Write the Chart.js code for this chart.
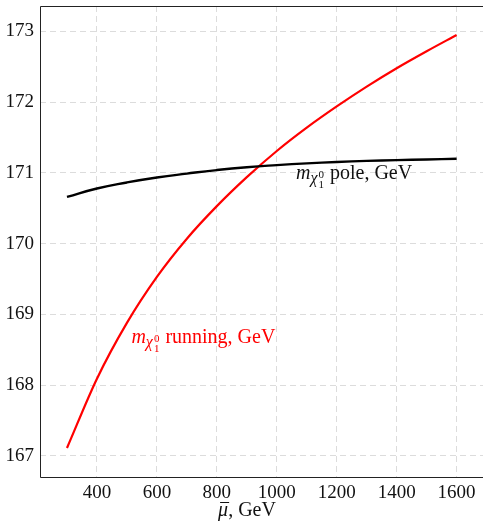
<!DOCTYPE html>
<html>
<head>
<meta charset="utf-8">
<script src="https://cdn.jsdelivr.net/npm/chart.js@4"></script>
<style>
  body { margin: 0; background: #fff; }
  #wrap { width: 483px; height: 521px; position: relative; }
</style>
</head>
<body>
<div id="wrap"><canvas id="chart"></canvas></div>
<script>
// Energieskala (GeV) und Massen
const muBar = [300, 400, 500, 600, 700, 800, 900, 1000, 1100, 1200, 1300, 1400, 1500, 1600];
const mPole = [170.66, 170.78, 170.865, 170.935, 170.99, 171.04, 171.08, 171.11, 171.135, 171.155, 171.17, 171.18, 171.19, 171.20];
const mRunning = [167.11, 168.09, 168.88, 169.53, 170.07, 170.53, 170.94, 171.31, 171.64, 171.94, 172.22, 172.48, 172.72, 172.95];
const xTicks = [400, 600, 800, 1000, 1200, 1400, 1600];
const yTicks = [167, 168, 169, 170, 171, 172, 173];

const serif = '"Liberation Serif", "DejaVu Serif", serif';

// Beschriftung m_{chi_1^0} ... mit Index
function drawMassLabel(ctx, x, y, rest, color) {
    ctx.save();
    ctx.fillStyle = color;
    ctx.textBaseline = 'alphabetic';
    ctx.textAlign = 'left';
    ctx.font = 'italic 20px ' + serif;
    ctx.fillText('m', x, y);
    x += ctx.measureText('m').width;
    ctx.font = 'italic 16px ' + serif;
    ctx.fillText('χ', x, y + 4);
    x += ctx.measureText('χ').width + 1;
    ctx.font = '11px ' + serif;
    ctx.fillText('0', x, y - 1);
    ctx.fillText('1', x, y + 9);
    x += ctx.measureText('0').width + 1;
    ctx.font = '20px ' + serif;
    ctx.fillText(rest, x, y);
    ctx.restore();
}

const labels = {
    id: 'labels',
    afterDraw(chart) {
        const { ctx, chartArea, scales } = chart;
        const xs = scales.x, ys = scales.y;

        // Rahmen: links, oben, unten
        ctx.save();
        ctx.strokeStyle = '#222';
        ctx.lineWidth = 1;
        ctx.beginPath();
        ctx.moveTo(chartArea.right, chartArea.top + 0.5);
        ctx.lineTo(chartArea.left + 0.5, chartArea.top + 0.5);
        ctx.lineTo(chartArea.left + 0.5, chartArea.bottom + 0.5);
        ctx.lineTo(chartArea.right, chartArea.bottom + 0.5);
        ctx.stroke();
        ctx.restore();

        drawMassLabel(ctx, xs.getPixelForValue(1064), ys.getPixelForValue(170.91), ' pole, GeV', '#111');
        drawMassLabel(ctx, xs.getPixelForValue(515), ys.getPixelForValue(168.6), ' running, GeV', '#ff0000');

        // Achsentitel mu-quer, GeV
        ctx.save();
        ctx.fillStyle = '#111';
        ctx.textBaseline = 'alphabetic';
        const t1 = 'μ';
        const t2 = ', GeV';
        ctx.font = '20px ' + serif;
        const w2 = ctx.measureText(t2).width;
        ctx.font = 'italic 20px ' + serif;
        const w1 = ctx.measureText(t1).width;
        const x0 = 247 - (w1 + w2) / 2;
        ctx.fillText(t1, x0, 516);
        ctx.strokeStyle = '#111';
        ctx.lineWidth = 1;
        ctx.beginPath();
        ctx.moveTo(x0 + 2, 502.5);
        ctx.lineTo(x0 + w1 + 1, 502.5);
        ctx.stroke();
        ctx.font = '20px ' + serif;
        ctx.fillText(t2, x0 + w1, 516);
        ctx.restore();
    }
};

new Chart(document.getElementById('chart'), {
    type: 'line',
    data: {
        datasets: [
            {
                label: 'pole',
                data: muBar.map((v, i) => ({ x: v, y: mPole[i] })),
                borderColor: '#000',
                borderWidth: 2.4,
                pointRadius: 0,
                tension: 0.5
            },
            {
                label: 'running',
                data: muBar.map((v, i) => ({ x: v, y: mRunning[i] })),
                borderColor: '#ff0000',
                borderWidth: 2.2,
                pointRadius: 0,
                cubicInterpolationMode: 'monotone'
            }
        ]
    },
    options: {
        responsive: true,
        maintainAspectRatio: false,
        animation: false,
        layout: { padding: { top: 6, right: 0, left: 0, bottom: 0 } },
        plugins: { legend: { display: false }, tooltip: { enabled: false } },
        scales: {
            x: {
                type: 'linear',
                min: 210,
                max: 1688,
                afterBuildTicks: s => { s.ticks = xTicks.map(v => ({ value: v })); },
                afterFit: s => { s.height = 44; s.paddingLeft = 0; s.paddingRight = 0; },
                grid: { color: '#dcdcdc', drawTicks: false, lineWidth: 1 },
                border: { display: false, dash: [6, 4] },
                ticks: { color: '#111', font: { family: serif, size: 19 }, padding: 5, maxRotation: 0, callback: v => String(v) }
            },
            y: {
                type: 'linear',
                min: 166.70,
                max: 173.36,
                afterBuildTicks: s => { s.ticks = yTicks.map(v => ({ value: v })); },
                afterFit: s => { s.width = 40; s.paddingTop = 0; s.paddingBottom = 0; },
                grid: { color: '#dcdcdc', drawTicks: false, lineWidth: 1 },
                border: { display: false, dash: [6, 4] },
                ticks: { color: '#111', font: { family: serif, size: 19 }, padding: 6, callback: v => String(v) }
            }
        }
    },
    plugins: [labels]
});
</script>
</body>
</html>
